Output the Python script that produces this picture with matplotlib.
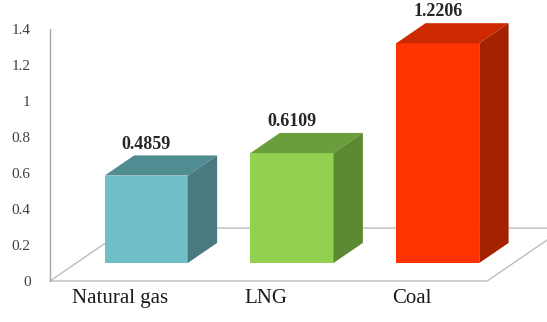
import matplotlib
matplotlib.use("Agg")
import matplotlib.pyplot as plt
from matplotlib.patches import Polygon

plt.rcParams["font.family"] = ["Liberation Serif", "DejaVu Serif"]

categories = ["Natural gas", "LNG", "Coal"]
values = [0.4859, 0.6109, 1.2206]
value_labels = ["0.4859", "0.6109", "1.2206"]
yticks = [0, 0.2, 0.4, 0.6, 0.8, 1.0, 1.2, 1.4]
ytick_labels = ["0", "0.2", "0.4", "0.6", "0.8", "1", "1.2", "1.4"]

front_colors = ["#70BFC6", "#92D050", "#FF3300"]
top_colors = ["#4F8D93", "#6A9E3C", "#CC2900"]
side_colors = ["#487A80", "#5B8A32", "#A52200"]

W, H = 547, 322
fig = plt.figure(figsize=(W / 100, H / 100), dpi=100)
ax = fig.add_axes([50 / W, 41 / H, (W - 50) / W, 252 / H])
ax.set_xlim(-0.48, 2.93)
ax.set_ylim(0, 1.4)

# depth direction (full floor depth) in data units
DX, DY = 0.53, 0.294
d_front, d_back = 0.34, 0.72
bw = 0.57
floor_right = 2.52
gray = "#BDBDBD"

# floor
fl = [(-0.48, 0), (floor_right, 0), (floor_right + DX, DY), (-0.48 + DX, DY)]
ax.add_patch(Polygon(fl, closed=True, fill=False, edgecolor=gray, lw=1.0,
                     clip_on=False, zorder=1))

# bars
for i, v in enumerate(values):
    fx = i + d_front * DX
    fy = d_front * DY
    bx = (d_back - d_front) * DX
    by = (d_back - d_front) * DY
    ax.bar(fx, v, width=bw, bottom=fy, color=front_colors[i], zorder=3,
           clip_on=False)
    l, r = fx - bw / 2, fx + bw / 2
    top = fy + v
    ax.add_patch(Polygon([(l, top), (r, top), (r + bx, top + by), (l + bx, top + by)],
                         closed=True, facecolor=top_colors[i], edgecolor="none",
                         zorder=3, clip_on=False))
    ax.add_patch(Polygon([(r, fy), (r + bx, fy + by), (r + bx, top + by), (r, top)],
                         closed=True, facecolor=side_colors[i], edgecolor="none",
                         zorder=3, clip_on=False))
    ax.annotate(value_labels[i], (fx, top + by), xytext=(0, 2),
                textcoords="offset points", ha="center", va="bottom",
                fontsize=13, fontweight="bold", fontfamily="Liberation Serif",
                color="#262626", annotation_clip=False)

for s in ["top", "right", "bottom"]:
    ax.spines[s].set_visible(False)
ax.spines["left"].set_color("#A6A6A6")
ax.spines["left"].set_linewidth(1.0)

ax.set_yticks(yticks)
ax.set_yticklabels(ytick_labels)
ax.tick_params(axis="y", length=0, pad=14, labelsize=11, labelcolor="#404040")

ax.set_xticks(range(len(categories)))
ax.set_xticklabels(categories)
ax.tick_params(axis="x", length=0, pad=6, labelsize=15, labelcolor="#1a1a1a")

for lbl in ax.get_xticklabels() + ax.get_yticklabels():
    lbl.set_fontfamily("Liberation Serif")

fig.savefig("out.png", dpi=100)
